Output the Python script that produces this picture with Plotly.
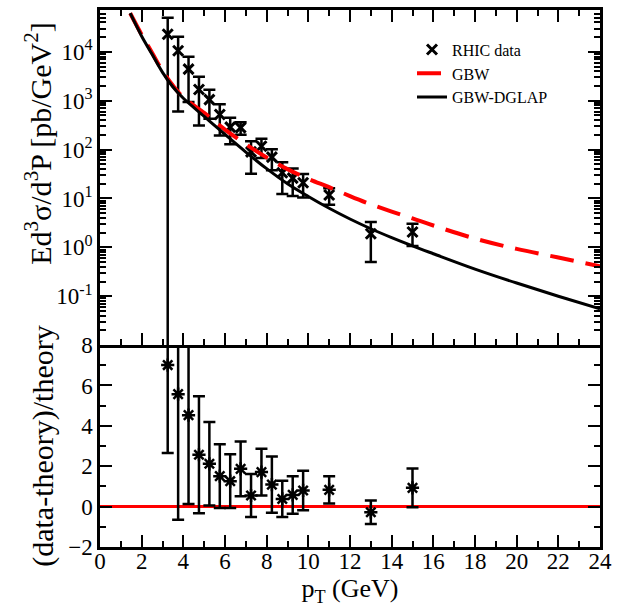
import plotly.graph_objects as go

# ---------------- data ----------------
pt_data = [3.25, 3.75, 4.25, 4.75, 5.25, 5.75, 6.25, 6.75, 7.25, 7.75,
           8.25, 8.75, 9.25, 9.75, 11.0, 13.0, 15.0]
xsec_data = [22900, 10500, 4440, 1700, 1050, 523, 288, 282, 90, 117,
             70, 33.6, 26, 21, 11.8, 1.9, 2.06]
xsec_err = [27000, 9900, 3500, 1390, 620, 328, 159, 81, 58, 50,
            32, 21.3, 14.8, 10.5, 4.4, 1.4, 0.99]

ratio_data = [7.01, 5.57, 4.53, 2.57, 2.12, 1.51, 1.26, 1.87, 0.55, 1.71,
              1.09, 0.38, 0.58, 0.80, 0.83, -0.28, 0.93]
ratio_err = [4.36, 6.22, 4.40, 2.90, 2.07, 1.58, 1.33, 1.36, 1.07, 1.16,
             1.39, 0.90, 0.93, 0.98, 0.67, 0.58, 0.96]

pt_curve = [1.45, 2.0, 2.5, 3.0, 3.5, 4.0, 5.0, 6.0, 7.0, 8.0, 9.0, 10.0,
            11.0, 12.0, 13.0, 14.0, 15.0, 16.0, 18.0, 20.0, 22.0, 24.0]
gbw = [61700, 22400, 9550, 4070, 2040, 1175, 562, 257, 129, 69, 39.8, 25.1,
       17.0, 11.2, 7.6, 5.4, 3.9, 2.8, 1.51, 0.93, 0.62, 0.41]
gbw_dglap = [61700, 20900, 8910, 3800, 1905, 1122, 479, 204, 89, 40.7, 20.0,
             11.0, 6.3, 3.8, 2.4, 1.58, 1.07, 0.74, 0.359, 0.186, 0.100, 0.055]

log_tickvals = [1e-1, 1e0, 1e1, 1e2, 1e3, 1e4]
log_ticktext = ["10<sup>-1</sup>", "10<sup>0</sup>", "10<sup>1</sup>",
                "10<sup>2</sup>", "10<sup>3</sup>", "10<sup>4</sup>"]

FONT = "Liberation Serif"

fig = go.Figure()

fig.add_trace(go.Scatter(
    x=pt_data, y=xsec_data, mode="markers", name="RHIC data",
    xaxis="x2", yaxis="y2",
    marker=dict(symbol="x-thin-open", size=10, color="black",
                line=dict(color="black", width=3)),
    error_y=dict(type="data", array=xsec_err, symmetric=True,
                 color="black", thickness=2.5, width=6),
))
fig.add_trace(go.Scatter(
    x=pt_curve, y=gbw, mode="lines", name="GBW",
    xaxis="x2", yaxis="y2",
    line=dict(color="#ff0000", width=4, dash="24px,12px", shape="spline"),
))
fig.add_trace(go.Scatter(
    x=pt_curve, y=gbw_dglap, mode="lines", name="GBW-DGLAP",
    xaxis="x2", yaxis="y2",
    line=dict(color="black", width=3, shape="spline"),
))
fig.add_trace(go.Scatter(
    x=pt_data, y=ratio_data, mode="markers", showlegend=False,
    xaxis="x", yaxis="y",
    marker=dict(symbol="asterisk-open", size=11, color="black",
                line=dict(color="black", width=2.5)),
    error_y=dict(type="data", array=ratio_err, symmetric=True,
                 color="black", thickness=2.5, width=6),
))

minor_log = [m * 10.0 ** e for e in range(-2, 5) for m in range(2, 10)]

axis_common = dict(showline=True, linecolor="black", linewidth=2.5,
                   ticks="inside", tickcolor="black", tickwidth=2,
                   showgrid=False, automargin=False,
                   tickfont=dict(family=FONT, size=23, color="black"))

fig.update_layout(
    width=625, height=608,
    margin=dict(l=100, r=25, t=10, b=61, pad=0, autoexpand=False),
    paper_bgcolor="white", plot_bgcolor="white",
    font=dict(family=FONT, color="black"),
    xaxis=dict(domain=[0, 1], anchor="y", range=[0, 24], dtick=2, tick0=0,
               ticklen=12, mirror=False, zeroline=False,
               ticklabelstandoff=-8,
               minor=dict(dtick=1, ticks="inside", ticklen=6,
                          tickcolor="black", tickwidth=2),
               title=dict(text="p<sub>T</sub> (GeV)",
                          font=dict(family=FONT, size=26), standoff=2),
               **axis_common),
    yaxis=dict(domain=[0, 0.376], anchor="x", range=[-2, 8], dtick=2,
               tick0=0, ticklen=12, mirror="ticks",
               minor=dict(dtick=1, ticks="inside", ticklen=6,
                          tickcolor="black", tickwidth=2),
               title=dict(text="(data-theory)/theory",
                          font=dict(family=FONT, size=30), standoff=6),
               zeroline=True, zerolinecolor="#ff0000", zerolinewidth=3,
               **axis_common),
    xaxis2=dict(domain=[0, 1], anchor="y2", range=[0, 24], dtick=2, tick0=0,
                ticklen=12, mirror="ticks", showticklabels=False,
                zeroline=False,
                minor=dict(dtick=1, ticks="inside", ticklen=6,
                           tickcolor="black", tickwidth=2),
                **axis_common),
    yaxis2=dict(domain=[0.376, 1], anchor="x2", type="log",
                range=[-2, 4.856], tickmode="array",
                tickvals=log_tickvals, ticktext=log_ticktext,
                ticklen=12, mirror="ticks", zeroline=False,
                minor=dict(tickmode="array", tickvals=minor_log,
                           ticks="inside", ticklen=6,
                           tickcolor="black", tickwidth=1.5),
                **axis_common),
    annotations=[dict(
        text="Ed<sup>3</sup>σ/d<sup>3</sup>P [pb/GeV<sup>2</sup>]",
        xref="paper", yref="paper", x=-0.124, y=0.751,
        xanchor="center", yanchor="middle", textangle=-90,
        showarrow=False, font=dict(family=FONT, size=30, color="black"),
    )],
    legend=dict(x=0.624, y=0.958, xanchor="left", yanchor="top",
                bgcolor="rgba(0,0,0,0)", borderwidth=0,
                font=dict(family=FONT, size=16, color="black"),
                tracegroupgap=0, itemwidth=30),
    showlegend=True,
)

fig.write_html("out.html", config={"displayModeBar": False},
               post_script="document.body.style.margin='0';")
